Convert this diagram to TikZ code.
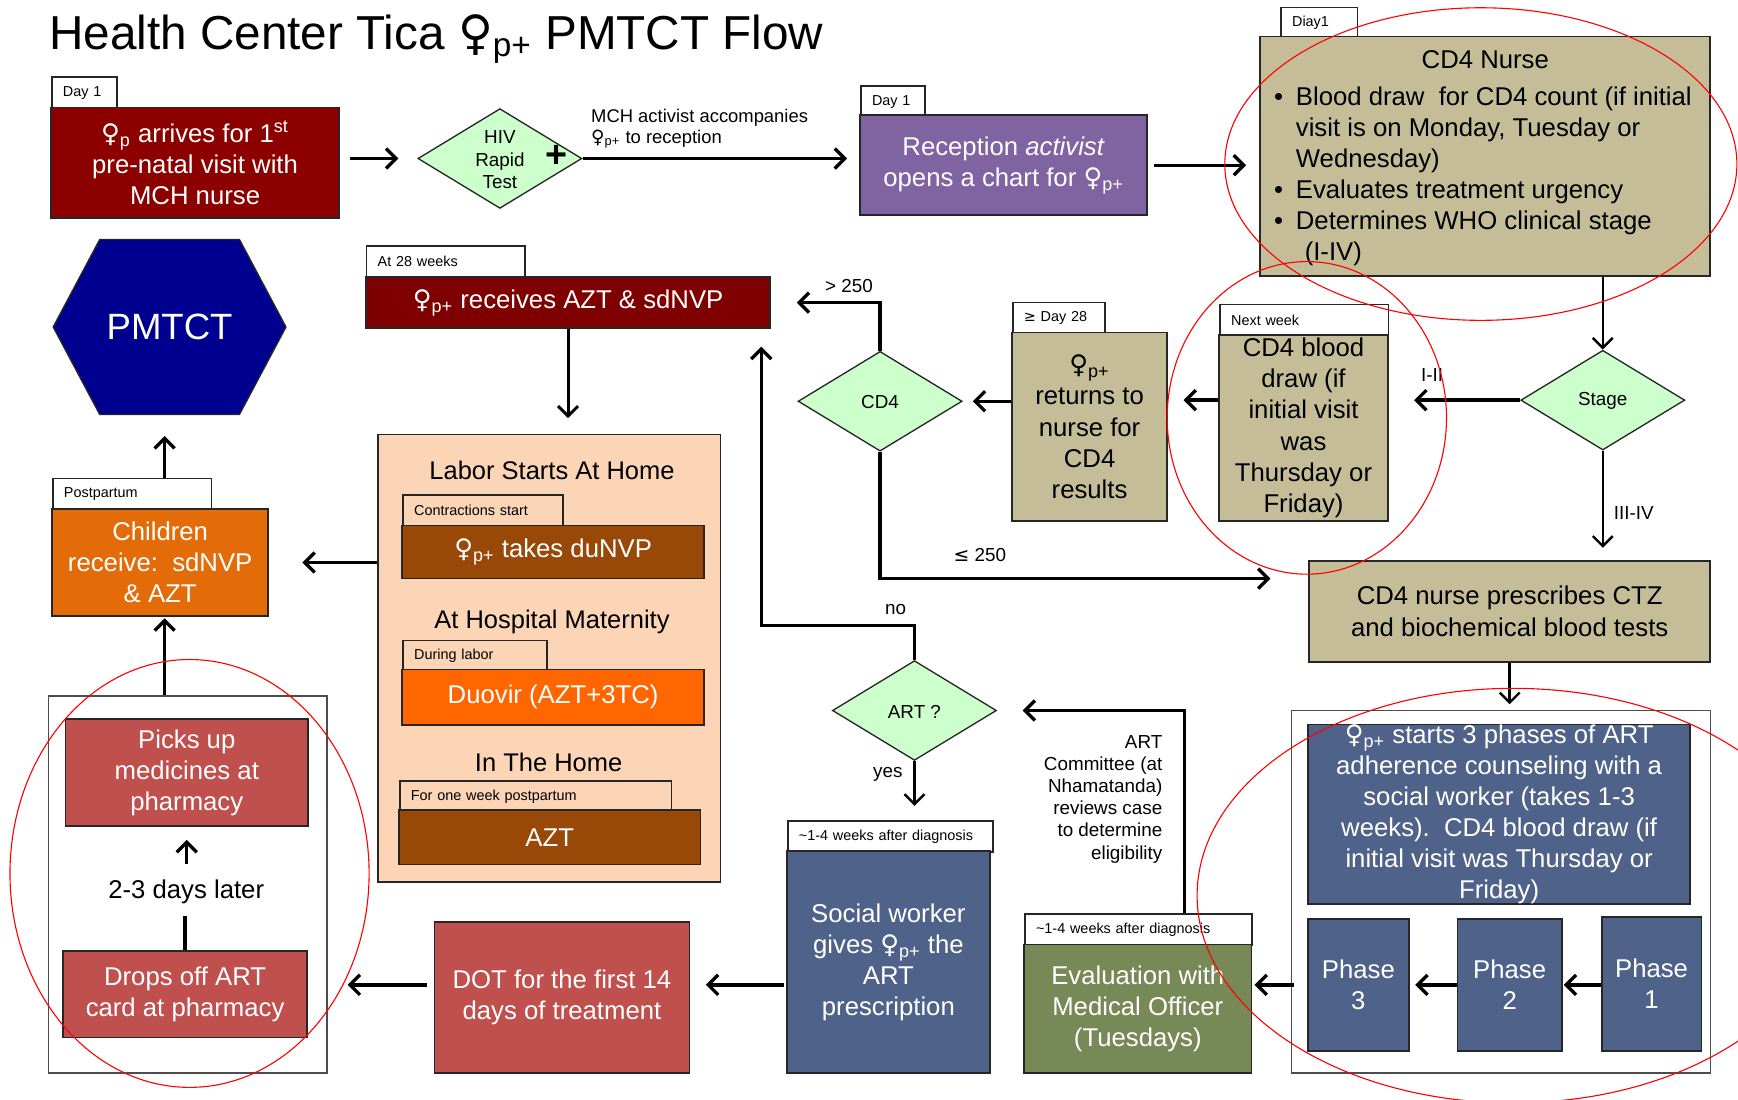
\documentclass[tikz,border=0pt]{standalone}
\usepackage{fontspec}
\setmainfont{Liberation Sans}
\newfontfamily\symf{DejaVu Sans}
\usetikzlibrary{arrows.meta,calc,shapes.geometric}
\newcommand\fsz[2]{\fontsize{#1}{#2}\selectfont}
\newcommand\fem[1]{{\symf\char"2640}\textsubscript{#1}}
\definecolor{cA}{HTML}{8C0000}
\definecolor{cF}{HTML}{7F0000}
\definecolor{cPurp}{HTML}{8064A2}
\definecolor{cTan}{HTML}{C4BD97}
\definecolor{cMint}{HTML}{CCFFCC}
\definecolor{cNavy}{HTML}{000090}
\definecolor{cOrangeH}{HTML}{E36C09}
\definecolor{cPeach}{HTML}{FBD5B5}
\definecolor{cBrown}{HTML}{984807}
\definecolor{cOrange}{HTML}{FF6600}
\definecolor{cPharm}{HTML}{C0504D}
\definecolor{cSlate}{HTML}{4F6289}
\definecolor{cOlive}{HTML}{778956}
\tikzset{
 rect/.style n args={4}{minimum width={(#3-#1)*0.5pt}, minimum height={(#4-#2)*0.5pt}, at={({(#1+#3)/2},{(#2+#4)/2})}},
 box/.style={draw=black!85, line width=0.8pt, inner sep=0pt, align=center, text=white, font=\fsz{11.6}{14}},
 tagbox/.style={draw=black!85, fill=white, line width=0.7pt, inner xsep=5pt, inner ysep=0pt, anchor=north west, align=left, font=\fsz{6.5}{8}, minimum height=14pt},
 dia/.style={diamond, draw=black!85, line width=0.6pt, fill=cMint, inner sep=0pt, minimum width=74pt, minimum height=45pt},
 arr/.style={line width=1.5pt, -{Straight Barb[length=4.5pt,width=9pt]}},
 thinarr/.style={line width=1.1pt, -{Straight Barb[length=4.5pt,width=9pt]}},
 lbl/.style={font=\fsz{8.5}{10}, inner sep=0pt},
 body/.style={font=\fsz{11.6}{14}, inner sep=0pt},
 ring/.style={draw=red, line width=0.5pt},
 frame/.style={draw=black!70, fill=white, line width=0.6pt, inner sep=0pt},
}
\begin{document}
\begin{tikzpicture}[x=0.5pt,y=-0.5pt]
\useasboundingbox (0,0) rectangle (1568,992);
% title
\node[anchor=base west, inner sep=0pt, font=\fsz{21.5}{24}] (title) at (44,45) {Health Center Tica \fem{p+} PMTCT Flow};
% A
\node[tagbox, text width=19.5pt] (tA) at (46,69) {Day 1};
\node[box, fill=cA, rect={46}{97}{306}{197}] (A) {\fem{p} arrives for 1\textsuperscript{st}\\pre-natal visit with\\MCH nurse};
% HIV
\node[dia] (HIV) at (451,143) {};
\node[lbl, align=center] (HIVt) at (451,144) {HIV\\Rapid\\Test};
\node[inner sep=0pt, font=\bfseries\fsz{17}{17}] (plus) at (502,141) {+};
\node[lbl, font=\fsz{8.3}{9.5}, anchor=west, align=left] (mch) at (533,116) {MCH activist accompanies\\\fem{p+} to reception};
% B
\node[tagbox, text width=19pt] (tB) at (776,77) {Day 1};
\node[box, fill=cPurp, rect={776}{104}{1035}{194}] (B) {Reception \textit{activist}\\opens a chart for \fem{p+}};
% C
\node[tagbox, text width=24.5pt] (tC) at (1155,6) {Diay1};
\node[box, fill=cTan, rect={1137}{33}{1543}{249}] (C) {};
\node[body] (Ct) at (1340,54) {CD4 Nurse};
\node[body, anchor=north west] (Cl) at (1149,75) {\begin{tabular}{@{}l@{\hspace{5.8pt}}l@{}}
\textbullet & Blood draw\ \ for CD4 count (if initial\\
 & visit is on Monday, Tuesday or\\
 & Wednesday)\\
\textbullet & Evaluates treatment urgency\\
\textbullet & Determines WHO clinical stage\\
 & \hspace{4pt}(I-IV)
\end{tabular}};
% Stage
\node[dia] (Stage) at (1446,361) {};
\node[lbl] (Staget) at (1446,362) {Stage};
% D
\node[tagbox, text width=66pt] (tD) at (1100,274) {Next week};
\node[box, fill=cTan, text=black, rect={1100}{302}{1252}{470}] (D) {CD4 blood\\draw (if\\initial visit\\was\\Thursday or\\Friday)};
% E
\node[tagbox, text width=31.5pt] (tE) at (913,272) {{\symf ≥} Day 28};
\node[box, fill=cTan, text=black, rect={913}{300}{1053}{470}] (E) {\fem{p+}\\returns to\\nurse for\\CD4\\results};
% CD4
\node[dia] (CD4) at (794,362) {};
\node[lbl] (CD4t) at (794,363) {CD4};
% F
\node[tagbox, text width=61.5pt] (tF) at (330,221) {At 28 weeks};
\node[box, fill=cF, rect={330}{250}{695}{296}] (F) {\fem{p+} receives AZT \& sdNVP};
% G
\node[box, fill=cPeach, rect={341}{392}{650}{796}] (G) {};
\node[inner sep=0pt, font=\fsz{11.5}{13}] (G1t) at (498,424) {Labor Starts At Home};
\node[tagbox, fill=none, text width=62pt] (tG1) at (363,446) {Contractions start};
\node[box, fill=cBrown, rect={363}{474}{635}{522}] (G1) {\fem{p+} takes duNVP};
\node[inner sep=0pt, font=\fsz{11.5}{13}] (G2t) at (498,561) {At Hospital Maternity};
\node[tagbox, fill=none, text width=55pt] (tG2) at (363,577) {During labor};
\node[box, fill=cOrange, rect={363}{604}{635}{654}] (G2) {Duovir (AZT+3TC)};
\node[inner sep=0pt, font=\fsz{11.5}{13}] (G3t) at (495,688) {In The Home};
\node[tagbox, fill=none, text width=112.5pt] (tG3) at (360,704) {For one week postpartum};
\node[box, fill=cBrown, rect={360}{731}{632}{780}] (G3) {AZT};
% H
\node[tagbox, text width=61.5pt] (tH) at (47,431) {Postpartum};
\node[box, fill=cOrangeH, rect={47}{459}{242}{556}] (H) {Children\\receive:\ \ sdNVP\\\& AZT};
% Hexagon
\path[fill=cNavy, draw=black!85, line width=0.6pt] (48,295) -- (90,216) -- (216,216) -- (258,295) -- (216,374) -- (90,374) -- cycle;
\node[inner sep=0pt, minimum width=105pt, minimum height=79pt, text=white, font=\fsz{16.5}{18}] (Hex) at (153,295) {PMTCT};
% I
\node[frame, rect={44}{628}{295}{968}] (I) {};
\node[box, fill=cPharm, rect={59}{649}{278}{745}] (Pk) {Picks up\\medicines at\\pharmacy};
\node[body] (days) at (168,805) {2-3 days later};
\node[box, fill=cPharm, rect={57}{858}{277}{936}] (Dr) {Drops off ART\\card at pharmacy};
% DOT
\node[box, fill=cPharm, rect={392}{832}{622}{968}] (DOT) {DOT for the first 14\\days of treatment};
% SW
\node[tagbox, text width=82.5pt] (tSW) at (710,740) {\textasciitilde1-4 weeks after diagnosis};
\node[box, fill=cSlate, rect={710}{768}{893}{968}] (SW) {Social worker\\gives \fem{p+} the\\ART\\prescription};
% ART
\node[dia] (ART) at (825,641) {};
\node[lbl] (ARTt) at (825,642) {ART ?};
% K
\node[tagbox, text width=92.5pt] (tK) at (924,824) {\textasciitilde1-4 weeks after diagnosis};
\node[box, fill=cOlive, rect={924}{852}{1129}{968}] (K) {Evaluation with\\Medical Officer\\(Tuesdays)};
\node[lbl, anchor=east, align=right] (comm) at (1049,721) {ART\\Committee (at\\Nhamatanda)\\reviews case\\to determine\\eligibility};
% L
\node[frame, rect={1165}{641}{1543}{968}] (L) {};
\node[box, fill=cSlate, rect={1180}{654}{1525}{815}] (Lb) {\fem{p+} starts 3 phases of ART\\adherence counseling with a\\social worker (takes 1-3\\weeks).\ \ CD4 blood draw (if\\initial visit was Thursday or\\Friday)};
\node[box, fill=cSlate, rect={1180}{829}{1271}{948}] (P3) {Phase\\3};
\node[box, fill=cSlate, rect={1315}{829}{1409}{948}] (P2) {Phase\\2};
\node[box, fill=cSlate, rect={1445}{827}{1535}{948}] (P1) {Phase\\1};
% M
\node[box, fill=cTan, text=black, rect={1181}{506}{1543}{597}] (M) {CD4 nurse prescribes CTZ\\and biochemical blood tests};
% labels
\node[lbl] (gt) at (766,258) {> 250};
\node[lbl] (le) at (884,501) {{\symf ≤} 250};
\node[lbl] (no) at (808,550) {no};
\node[lbl] (yes) at (801,699) {yes};
\node[lbl] (i2) at (1292,338) {I-II};
\node[lbl] (i4) at (1474,463) {III-IV};
% connectors
\draw[arr, shorten <=4.5pt, shorten >=8.5pt] (A.east |- HIV.west) -- (HIV.west);
\draw[arr, shorten >=5.5pt] (HIV.east) -- (HIV.east -| B.west);
\draw[arr, shorten <=2.5pt, shorten >=6pt] (B.east) -- (B.east -| C.west);
\draw[thinarr] (C.south -| Stage.north) -- (Stage.north);
\draw[arr, shorten >=11.5pt] (Stage.west) -- (Stage.west -| D.east);
\draw[thinarr, shorten >=5.5pt] (Stage.south) -- (Stage.south |- M.north);
\draw[arr, shorten >=7pt] (D.west |- Stage.west) -- (E.east |- Stage.west);
\draw[arr, shorten >=4.5pt] (E.west |- CD4.east) -- (CD4.east);
\draw[arr, shorten >=11.5pt] (CD4.north) |- (F.east);
\draw[arr, shorten >=17pt] (CD4.south) |- ([yshift=14.75pt]M.west);
\draw[arr, line width=1.3pt, shorten >=7pt] (F.south) -- (F.south |- G.north);
\draw[arr, shorten >=15pt] (G.west |- H.east) -- (H.east);
\draw[arr, shorten >=9.5pt] ([xshift=2pt]tH.north -| H.north) -- ([xshift=2pt]H.north |- Hex.south);
\draw[arr, shorten >=0.5pt] ([xshift=2pt]I.north -| H.south) -- ([xshift=2pt]H.south);
\draw[line width=1.5pt, shorten >=5pt] (Dr.north) -- (Dr.north |- days.south);
\draw[arr, shorten <=7pt, shorten >=6pt] (days.north -| Pk.south) -- (Pk.south);
\draw[arr, shorten <=3pt, shorten >=9pt] (DOT.west |- P2.west) -- (I.east |- P2.west);
\draw[arr, shorten <=1pt, shorten >=7pt] (SW.west |- P2.west) -- (DOT.east |- P2.west);
\draw[thinarr, shorten >=6.5pt] (ART.south) -- (ART.south |- tSW.north);
\draw[arr] (ART.north) -- ++(0,-31) -| ([xshift=-4.5pt,yshift=-8pt]F.south east);
\draw[arr, shorten >=11.5pt] ([xshift=-31pt]tK.north east) |- (ART.east);
\draw[arr, shorten <=-1.5pt, shorten >=1pt] (L.west |- P2.west) -- (K.east |- P2.west);
\draw[arr, shorten >=2.5pt] (P2.west) -- (P3.east);
\draw[arr, shorten >=0.5pt] (P1.west |- P2.west) -- (P2.east);
\draw[thinarr, shorten >=2.5pt] (M.south) -- (M.south |- L.north);
% annotation rings
\draw[ring] (1336,148) ellipse [x radius=115.5pt, y radius=70.5pt];
\draw[ring] (1179,377) ellipse [x radius=63pt, y radius=70.5pt];
\draw[ring] (171,788) ellipse [x radius=81pt, y radius=96.5pt];
\draw[ring] (1365,808) ellipse [x radius=142.5pt, y radius=93.5pt];
\end{tikzpicture}
\end{document}
